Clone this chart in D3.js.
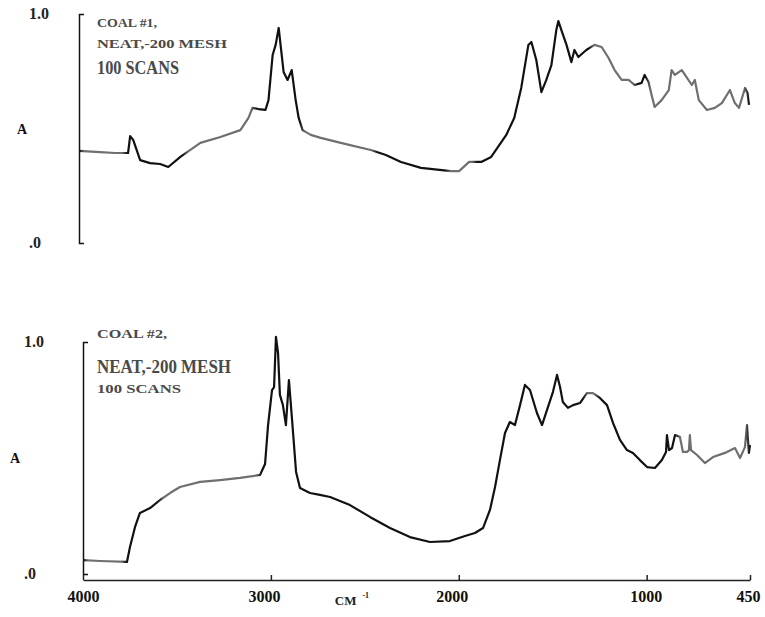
<!DOCTYPE html>
<html>
<head>
<meta charset="utf-8">
<script src="https://cdn.jsdelivr.net/npm/d3@7"></script>
<style>
  body { margin: 0; background: #fff; }
  text { font-family: "Liberation Serif", "DejaVu Serif", serif; font-weight: bold; }
</style>
</head>
<body>
<div id="chart"></div>
<script>
// ===== data =====
// coal #1 (upper panel): wavenumber (cm-1) and absorbance
var coal1Wn = [4000, 3888, 3809, 3740, 3729, 3713, 3676, 3623, 3570, 3527, 3463, 3357, 3251, 3145, 3102, 3081,
  3049, 3012, 2996, 2974, 2958, 2942, 2916, 2895, 2873, 2852, 2836, 2815, 2772, 2719, 2613, 2454, 2374, 2294,
  2188, 2028, 1986, 1933, 1869, 1816, 1736, 1694, 1657, 1619, 1603, 1577, 1550, 1524, 1497, 1471, 1460, 1444,
  1417, 1391, 1375, 1354, 1312, 1269, 1231, 1194, 1162, 1125, 1088, 1056, 1019, 1003, 982, 966, 950, 913, 875,
  860, 843, 806, 753, 737, 716, 673, 631, 594, 551, 525, 503, 471, 458, 450];
var coal1Abs = [0.402, 0.397, 0.393, 0.393, 0.467, 0.450, 0.362, 0.349, 0.345, 0.332, 0.376, 0.437, 0.463, 0.493,
  0.546, 0.590, 0.585, 0.581, 0.624, 0.821, 0.865, 0.939, 0.747, 0.712, 0.755, 0.624, 0.546, 0.493, 0.472, 0.459,
  0.437, 0.406, 0.384, 0.354, 0.328, 0.314, 0.314, 0.354, 0.354, 0.376, 0.472, 0.546, 0.677, 0.865, 0.878, 0.799,
  0.659, 0.712, 0.777, 0.930, 0.969, 0.930, 0.865, 0.790, 0.843, 0.812, 0.843, 0.865, 0.856, 0.808, 0.755, 0.712,
  0.712, 0.690, 0.699, 0.734, 0.703, 0.646, 0.594, 0.624, 0.668, 0.755, 0.734, 0.755, 0.690, 0.712, 0.624, 0.581,
  0.590, 0.611, 0.668, 0.611, 0.590, 0.677, 0.655, 0.603];

// coal #2 (lower panel)
var coal2Wn = [4000, 3910, 3766, 3750, 3723, 3697, 3643, 3590, 3537, 3484, 3377, 3271, 3164, 3058, 3031, 3015,
  2994, 2983, 2973, 2962, 2952, 2936, 2920, 2904, 2888, 2866, 2845, 2792, 2739, 2685, 2579, 2473, 2366, 2260,
  2153, 2047, 1967, 1914, 1871, 1834, 1807, 1781, 1754, 1728, 1701, 1674, 1648, 1621, 1584, 1557, 1525, 1499,
  1477, 1461, 1446, 1419, 1392, 1355, 1318, 1286, 1249, 1211, 1179, 1142, 1105, 1073, 1036, 998, 956, 919, 897,
  892, 881, 865, 849, 823, 807, 785, 775, 770, 764, 732, 690, 647, 583, 530, 503, 477, 466, 461, 456, 450];
var coal2Abs = [0.060, 0.056, 0.052, 0.116, 0.203, 0.263, 0.284, 0.319, 0.349, 0.375, 0.397, 0.405, 0.414, 0.427,
  0.474, 0.642, 0.793, 0.806, 1.022, 0.953, 0.772, 0.728, 0.642, 0.836, 0.672, 0.440, 0.371, 0.349, 0.341, 0.332,
  0.297, 0.246, 0.198, 0.159, 0.138, 0.142, 0.164, 0.177, 0.198, 0.276, 0.375, 0.491, 0.608, 0.655, 0.642, 0.728,
  0.815, 0.793, 0.694, 0.642, 0.720, 0.784, 0.858, 0.806, 0.741, 0.716, 0.728, 0.737, 0.780, 0.780, 0.759, 0.728,
  0.651, 0.578, 0.534, 0.522, 0.491, 0.461, 0.457, 0.491, 0.526, 0.599, 0.534, 0.543, 0.599, 0.591, 0.526, 0.526,
  0.534, 0.599, 0.534, 0.513, 0.478, 0.504, 0.522, 0.543, 0.500, 0.547, 0.642, 0.578, 0.522, 0.556];

var xTicks = [4000, 3000, 2000, 1000, 450];
var yTickLabels = [".0", "1.0"];
var coal1Notes = ["COAL #1,", "NEAT,-200 MESH", "100 SCANS"];
var coal2Notes = ["COAL #2,", "NEAT,-200 MESH", "100 SCANS"];

function zip(wn, ab) {
  return wn.map(function(w, i) { return { wn: w, a: ab[i] }; });
}
var coal1 = zip(coal1Wn, coal1Abs);
var coal2 = zip(coal2Wn, coal2Abs);

// ===== svg =====
var svgWidth = 765, svgHeight = 617;
var svg = d3.select("#chart").append("svg")
  .attr("width", svgWidth)
  .attr("height", svgHeight);
svg.append("rect").attr("width", svgWidth).attr("height", svgHeight).attr("fill", "#fff");
var defs = svg.append("defs");

// scales - the two panels are offset a little on the page
var xTop = d3.scaleLinear().domain([4000, 450]).range([79, 749]);
var yTop = d3.scaleLinear().domain([0, 1]).range([243, 14]);
var xBot = d3.scaleLinear().domain([4000, 450]).range([83, 750]);
var yBot = d3.scaleLinear().domain([0, 1]).range([574, 342]);

// pale (grey) stretches of the scanned trace, as wavenumber bands
var pale1 = [[4000, 3745], [3450, 3060], [2830, 2420], [2060, 1890], [1300, 1040], [1000, 450]];
var pale2 = [[4000, 3770], [3600, 3050], [1340, 1250], [850, 450]];

function traceGradient(id, x, bands) {
  var g = defs.append("linearGradient")
    .attr("id", id)
    .attr("gradientUnits", "userSpaceOnUse")
    .attr("x1", x(4000)).attr("x2", x(450))
    .attr("y1", 0).attr("y2", 0);
  var ink = "#111", pale = "#6f6f6f";
  var off = function(w) { return (4000 - w) / 3550; };
  g.append("stop").attr("offset", 0).attr("stop-color", ink);
  bands.forEach(function(b) {
    g.append("stop").attr("offset", off(b[0])).attr("stop-color", ink);
    g.append("stop").attr("offset", Math.min(1, off(b[0]) + 0.008)).attr("stop-color", pale);
    g.append("stop").attr("offset", Math.max(0, off(b[1]) - 0.008)).attr("stop-color", pale);
    g.append("stop").attr("offset", off(b[1])).attr("stop-color", ink);
  });
}
traceGradient("grad1", xTop, pale1);
traceGradient("grad2", xBot, pale2);

function drawTrace(data, x, y, grad) {
  var line = d3.line()
    .x(function(d) { return x(d.wn); })
    .y(function(d) { return y(d.a); });
  svg.append("path")
    .datum(data)
    .attr("d", line)
    .attr("fill", "none")
    .attr("stroke", "url(#" + grad + ")")
    .attr("stroke-width", 2.2)
    .attr("stroke-linejoin", "round");
}

// left bracket axis + labels
function drawLeftAxis(x, y, labelX, aX, aChar) {
  var axis = d3.axisRight(y).tickValues([]).tickSizeOuter(5);
  svg.append("g")
    .attr("transform", "translate(" + x(4000) + ",0)")
    .call(axis)
    .select(".domain")
    .attr("stroke", "#111")
    .attr("stroke-width", 1.5);

  svg.selectAll(null)
    .data(yTickLabels)
    .enter()
    .append("text")
    .attr("x", labelX)
    .attr("y", function(d, i) { return y(i) + 5; })
    .attr("font-size", 16)
    .attr("fill", "#222")
    .text(function(d) { return d; });

  svg.append("text")
    .attr("x", aX)
    .attr("y", y(0.5) + 5)
    .attr("font-size", 14)
    .attr("fill", "#111")
    .text(aChar);
}

drawTrace(coal1, xTop, yTop, "grad1");
drawTrace(coal2, xBot, yBot, "grad2");

drawLeftAxis(xTop, yTop, 29, 17, "A");
drawLeftAxis(xBot, yBot, 24, 10, "A");

// bottom wavenumber axis, ticks pointing up
var bottomAxis = d3.axisBottom(xBot)
  .tickValues(xTicks)
  .tickSizeInner(-5)
  .tickSizeOuter(0)
  .tickPadding(11)
  .tickFormat(d3.format("d"));
var xg = svg.append("g")
  .attr("transform", "translate(0," + 580 + ")")
  .call(bottomAxis);
xg.select(".domain").attr("stroke", "#222").attr("stroke-width", 1.5);
xg.selectAll(".tick line").attr("stroke", "#222").attr("stroke-width", 1.5);
// the printed numbers sit a touch left of their ticks
var labelNudge = { 4000: 0, 3000: -7, 2000: -7, 1000: -1, 450: -2 };
xg.selectAll(".tick text")
  .attr("dx", function(d) { return labelNudge[d] || 0; })
  .attr("font-family", "Liberation Serif, serif")
  .attr("font-weight", "bold")
  .attr("font-size", 16)
  .attr("fill", "#111");

var cm = svg.append("text")
  .attr("x", xBot(2660))
  .attr("y", 605)
  .attr("font-size", 13)
  .attr("fill", "#222");
cm.append("tspan").text("CM");
cm.append("tspan").attr("dx", 6).attr("dy", -7).attr("font-size", 8).text("-1");

// sample notes
function drawNotes(lines, x0, spec) {
  svg.selectAll(null)
    .data(lines)
    .enter()
    .append("text")
    .attr("x", x0)
    .attr("y", function(d, i) { return spec[i].y; })
    .attr("font-size", function(d, i) { return spec[i].size; })
    .attr("textLength", function(d, i) { return spec[i].w; })
    .attr("lengthAdjust", "spacingAndGlyphs")
    .attr("fill", "#4a4a4a")
    .text(function(d) { return d; });
}
drawNotes(coal1Notes, 97, [{ y: 27, size: 12, w: 60 }, { y: 48, size: 12, w: 130 }, { y: 74, size: 19, w: 82 }]);
drawNotes(coal2Notes, 97, [{ y: 338, size: 12, w: 70 }, { y: 373, size: 19, w: 134 }, { y: 393, size: 12, w: 84 }]);
</script>
</body>
</html>
